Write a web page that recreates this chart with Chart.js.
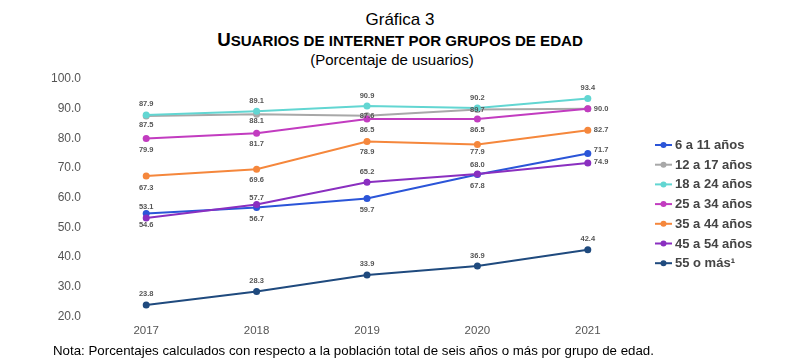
<!DOCTYPE html>
<html>
<head>
<meta charset="utf-8">
<script src="https://cdn.jsdelivr.net/npm/chart.js@4.4.1/dist/chart.umd.min.js"></script>
<style>
  body { margin: 0; width: 800px; height: 362px; position: relative; background: #fff; overflow: hidden;
         font-family: "Liberation Sans", Arial, sans-serif; color: #000; }
  .txt { position: absolute; left: 0; width: 800px; text-align: center; white-space: nowrap; }
  #t1 { top: 11px; font-size: 17px; line-height: 17px; }
  #t2 { top: 31px; font-size: 15.1px; line-height: 18px; font-weight: bold; }
  #t2 span { font-size: 18.7px; }
  #t3 { top: 52px; font-size: 15px; line-height: 15px; left: -8px; }
  #nota { top: 344px; left: 53px; width: auto; text-align: left; font-size: 13.3px; line-height: 14px; }
  #grafica { position: absolute; left: 0; top: 0; }
</style>
</head>
<body>
<div class="txt" id="t1">Gráfica 3</div>
<div class="txt" id="t2"><span>U</span>SUARIOS DE INTERNET POR GRUPOS DE EDAD</div>
<div class="txt" id="t3">(Porcentaje de usuarios)</div>
<canvas id="grafica" width="800" height="362"></canvas>
<div class="txt" id="nota">Nota: Porcentajes calculados con respecto a la población total de seis años o más por grupo de edad.</div>

<script>
// datos
const anios = ['2017', '2018', '2019', '2020', '2021'];
const grupos = ['6 a 11 años', '12 a 17 años', '18 a 24 años', '25 a 34 años', '35 a 44 años', '45 a 54 años', '55 o más¹'];
const de6a11 = [54.6, 56.7, 59.7, 67.8, 74.9];
const de12a17 = [87.5, 88.1, 87.6, 89.7, 90.0];
const de18a24 = [87.9, 89.1, 90.9, 90.2, 93.4];
const de25a34 = [79.9, 81.7, 86.5, 86.5, 90.0];
const de35a44 = [67.3, 69.6, 78.9, 77.9, 82.7];
const de45a54 = [53.1, 57.7, 65.2, 68.0, 71.7];
const de55ymas = [23.8, 28.3, 33.9, 36.9, 42.4];
const ticksY = [20, 30, 40, 50, 60, 70, 80, 90, 100];

const colores = ['#2b55d8', '#a8a8a8', '#62d6d2', '#c23cc0', '#f5873c', '#8a2fc0', '#1f4a7e'];

// donde va cada etiqueta de valor (desplazamiento vertical; null = sin etiqueta)
const etiquetaDy = [
  [11, 11.5, 11.5, 11.3, 9],
  [9, 6.6, 0, 0, null],
  [-10.5, -10.5, -10.5, -10.5, -11],
  [11.3, 11, 11.3, 11.3, 0],
  [11.7, 11.3, 10.7, 7, 0],
  [-11, -6, -10.7, -8.7, -13],
  [-10.7, -11, -10.7, -10.3, -11]
];
const etiquetaDerecha = [true, true, false, true, true, true, false];

const series = [de6a11, de12a17, de18a24, de25a34, de35a44, de45a54, de55ymas];

Chart.defaults.font.family = '"Liberation Sans", Arial, sans-serif';

const etiquetasValor = {
  id: 'etiquetasValor',
  afterDatasetsDraw(chart) {
    const ctx = chart.ctx;
    ctx.save();
    ctx.font = 'bold 7.5px "Liberation Sans", Arial, sans-serif';
    ctx.fillStyle = '#555';
    ctx.textBaseline = 'middle';
    chart.data.datasets.forEach((ds, i) => {
      chart.getDatasetMeta(i).data.forEach((pt, j) => {
        const dy = etiquetaDy[i][j];
        if (dy === null) return;
        const ultimo = j === ds.data.length - 1;
        if (ultimo && etiquetaDerecha[i]) {
          ctx.textAlign = 'left';
          ctx.fillText(ds.data[j].toFixed(1), pt.x + 6, pt.y + dy);
        } else {
          ctx.textAlign = 'center';
          ctx.fillText(ds.data[j].toFixed(1), pt.x, pt.y + dy);
        }
      });
    });
    ctx.restore();
  }
};

const leyenda = {
  id: 'leyenda',
  afterDraw(chart) {
    const ctx = chart.ctx;
    ctx.save();
    ctx.font = 'bold 13px "Liberation Sans", Arial, sans-serif';
    ctx.textBaseline = 'middle';
    ctx.textAlign = 'left';
    chart.data.datasets.forEach((ds, i) => {
      const y = 145 + i * 19.7;
      ctx.strokeStyle = ds.borderColor;
      ctx.lineWidth = 2;
      ctx.beginPath();
      ctx.moveTo(655, y);
      ctx.lineTo(672, y);
      ctx.stroke();
      ctx.fillStyle = ds.borderColor;
      ctx.beginPath();
      ctx.arc(663.5, y, 3, 0, Math.PI * 2);
      ctx.fill();
      ctx.fillStyle = '#444';
      ctx.fillText(ds.label, 675, y + 0.5);
    });
    ctx.restore();
  }
};

new Chart(document.getElementById('grafica'), {
  type: 'line',
  data: {
    labels: anios,
    datasets: series.map((d, i) => ({
      label: grupos[i],
      data: d,
      borderColor: colores[i],
      backgroundColor: colores[i],
      borderWidth: 2,
      pointRadius: 3.5,
      pointBorderWidth: 0,
      tension: 0,
      order: series.length - i   // las últimas series quedan encima
    }))
  },
  options: {
    animation: false,
    responsive: false,
    layout: { padding: { left: 0, right: 157, top: 79, bottom: 16 } },
    plugins: {
      legend: { display: false },
      tooltip: { enabled: false }
    },
    scales: {
      x: {
        offset: true,
        grid: { display: false, drawTicks: false },
        border: { display: false },
        ticks: { color: '#555', font: { size: 11.5 }, padding: 8 }
      },
      y: {
        min: 20,
        max: 100,
        afterFit(scale) { scale.width = 91; },
        afterBuildTicks(scale) { scale.ticks = ticksY.map(v => ({ value: v })); },
        grid: { display: false, drawTicks: false },
        border: { display: false },
        ticks: { color: '#555', font: { size: 12 }, padding: 10, callback: v => v.toFixed(1) }
      }
    }
  },
  plugins: [etiquetasValor, leyenda]
});
</script>
</body>
</html>
